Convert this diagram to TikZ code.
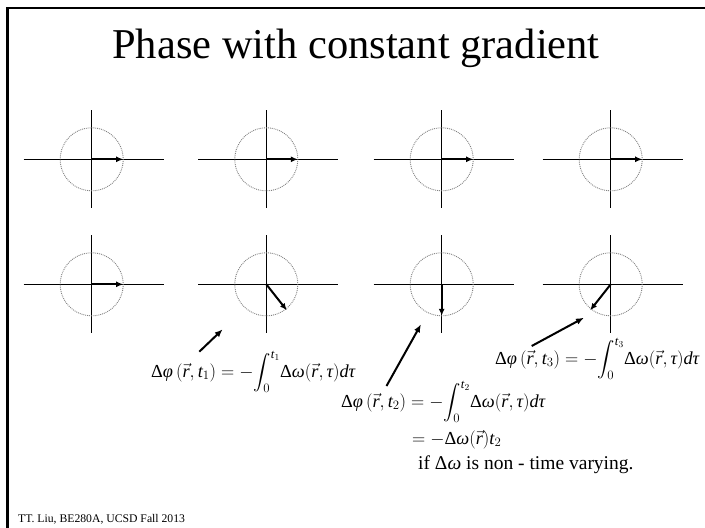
\RequirePackage{fix-cm}
\documentclass[tikz,border=0pt]{standalone}
\usepackage{amsmath}
\usepackage{fontspec}
\setmainfont{Liberation Serif}
\usetikzlibrary{arrows.meta,calc}
\newcommand{\vrr}{\vec{\textit{r}}}
\newcommand{\tI}[1]{\textit{#1}}
\newcommand{\phaseeq}[1]{$\text{Δ}\tI{φ}\left(\vrr,\tI{t}_{#1}\right)=-{\displaystyle\int_0^{\tI{t}_{#1}}}\text{Δ}\tI{ω}(\vrr,\tI{τ})\tI{dτ}$}
\tikzset{
  axis/.style={line width=1.1pt, black},
  ring/.style={densely dotted, gray, line width=0.9pt},
  phasor/.style={line width=2pt, -{Latex[length=7pt,width=6pt]}},
  pointer/.style={line width=2pt, -{Latex[length=8pt,width=6.5pt]}},
  eqn/.style={inner sep=0pt, font=\fontsize{18.3}{22}\selectfont},
}
\begin{document}
\begin{tikzpicture}[x=1pt,y=-1pt]
\useasboundingbox (0,0) rectangle (705,528);
% frame
\draw[line width=2.2pt] (7.5,528) -- (7.5,8.3) -- (705,8.3);
% title
\node[inner sep=0pt, anchor=base, font=\fontsize{42.5}{48}\selectfont] (title) at (356,58) {Phase with constant gradient};
% circle centres
\foreach \n/\x/\y in {a/91.7/159.3, b/266.3/159.3, c/441.7/159.3, d/610.7/159.3,
                      e/91.7/284.3, f/266.3/284.3, g/441.7/284.3, h/610.7/284.3}{
  \coordinate (\n) at (\x,\y);
  \draw[axis] ($(\n)+(-68,0)$) -- ($(\n)+(72,0)$);
  \draw[axis] ($(\n)+(0,-49)$) -- ($(\n)+(0,49)$);
  \draw[ring] (\n) circle[radius=31.5];
}
% phasor tips
\foreach \n in {a,b,c,d,e}{\coordinate (\n tip) at ($(\n)+(31.5,0)$);}
\coordinate (ftip) at ($(f)+(20.5,26)$);
\coordinate (gtip) at ($(g)+(0,31.5)$);
\coordinate (htip) at ($(h)+(-20.5,26)$);
\foreach \n in {a,b,c,d,e,f,g,h}{\draw[phasor] (\n) -- (\n tip);}
% equations
\node[eqn, anchor=base west] (eq1) at (151,377) {\phaseeq{1}};
\node[eqn, anchor=base west] (eq3) at (495,364) {\phaseeq{3}};
\node[eqn, anchor=base west] (eq2a) at (341,407) {\phaseeq{2}};
\node[eqn, anchor=base west] (eq2b) at (412,444) {$=-\text{Δ}\tI{ω}(\vrr)\tI{t}_2$};
\node[eqn, anchor=base west, font=\fontsize{19.5}{22}\selectfont] (eq2c) at (418,469.5) {if Δ\tI{ω} is non - time varying.};
% pointers
\coordinate (p1s) at (199.3,351.7); \coordinate (p1e) at (222.7,329.3);
\coordinate (p2s) at (386.5,386);   \coordinate (p2e) at (421,324.3);
\coordinate (p3s) at (531.7,346);   \coordinate (p3e) at (584,317.7);
\draw[pointer] (p1s) -- (p1e);
\draw[pointer] (p2s) -- (p2e);
\draw[pointer] (p3s) -- (p3e);
% footer
\node[inner sep=0pt, anchor=base west, font=\fontsize{11.7}{14}\selectfont] (foot) at (18,522) {TT. Liu, BE280A, UCSD Fall 2013};
\end{tikzpicture}
\end{document}
